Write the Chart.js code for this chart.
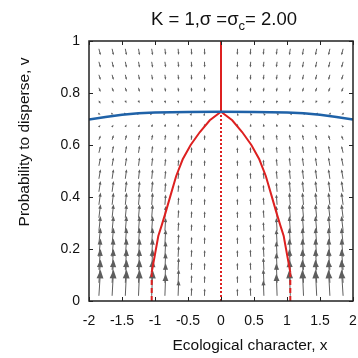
<!DOCTYPE html>
<html>
<head>
<meta charset="utf-8">
<script src="https://cdn.jsdelivr.net/npm/chart.js@4.4.1/dist/chart.umd.min.js"></script>
<style>
  html, body { margin: 0; padding: 0; background: #fff; }
</style>
</head>
<body>
<canvas id="graphCanvas" width="358" height="358"></canvas>
<script>
// axis ticks
var xTicks = [-2, -1.5, -1, -0.5, 0, 0.5, 1, 1.5, 2];
var yTicks = [0, 0.2, 0.4, 0.6, 0.8, 1];

// blue curve (v isocline)
var blueX = [-2, -1.75, -1.5, -1.25, -1, -0.5, 0, 0.5, 1, 1.25, 1.5, 1.75, 2];
var blueV = [0.698, 0.708, 0.716, 0.722, 0.725, 0.727, 0.728, 0.727, 0.725, 0.722, 0.716, 0.708, 0.698];

// red curve (x isocline, branching region)
var redX = [-1.05, -1.0, -0.95, -0.9, -0.84, -0.76, -0.68, -0.58, -0.46, -0.32, -0.17, 0,
            0.17, 0.32, 0.46, 0.58, 0.68, 0.76, 0.84, 0.9, 0.95, 1.0, 1.05];
var redV = [0.11, 0.18, 0.25, 0.29, 0.34, 0.41, 0.48, 0.545, 0.6, 0.65, 0.695, 0.728,
            0.695, 0.65, 0.6, 0.545, 0.48, 0.41, 0.34, 0.29, 0.25, 0.18, 0.11];
var redTop = 0.728;
var redFoot = 1.05;

// direction field, symmetric in x: columns are |x|, rows are v
var fieldCols = [0.25, 0.45, 0.65, 0.85, 1.05, 1.25, 1.45, 1.65, 1.85];
var fieldRows = [0.02, 0.07, 0.12, 0.17, 0.22, 0.27, 0.32, 0.37, 0.42, 0.47,
                 0.52, 0.57, 0.62, 0.67, 0.72, 0.77, 0.82, 0.87, 0.92, 0.97];
// dv per arrow, one row per entry of fieldRows
var fieldDV = [
  [0.028, 0.032, 0.060, 0.085, 0.100, 0.100, 0.100, 0.100, 0.100],
  [0.027, 0.030, 0.052, 0.075, 0.090, 0.090, 0.090, 0.090, 0.090],
  [0.027, 0.029, 0.046, 0.066, 0.080, 0.080, 0.080, 0.080, 0.080],
  [0.026, 0.028, 0.042, 0.060, 0.070, 0.070, 0.070, 0.070, 0.070],
  [0.026, 0.027, 0.038, 0.055, 0.062, 0.062, 0.062, 0.062, 0.062],
  [0.025, 0.026, 0.034, 0.050, 0.057, 0.057, 0.057, 0.057, 0.057],
  [0.025, 0.026, 0.031, 0.045, 0.052, 0.052, 0.052, 0.052, 0.052],
  [0.024, 0.025, 0.029, 0.040, 0.047, 0.047, 0.047, 0.047, 0.047],
  [0.024, 0.025, 0.027, 0.036, 0.042, 0.042, 0.042, 0.042, 0.042],
  [0.023, 0.024, 0.026, 0.032, 0.037, 0.037, 0.037, 0.037, 0.037],
  [0.022, 0.023, 0.024, 0.028, 0.032, 0.032, 0.032, 0.032, 0.032],
  [0.021, 0.022, 0.022, 0.024, 0.027, 0.027, 0.027, 0.027, 0.026],
  [0.019, 0.019, 0.019, 0.020, 0.020, 0.020, 0.019, 0.018, 0.017],
  [0.012, 0.012, 0.012, 0.012, 0.011, 0.010, 0.009, 0.008, 0.007],
  [0.003, 0.003, 0.003, 0.002, 0.001, 0.000, -0.002, -0.003, -0.004],
  [-0.010, -0.010, -0.010, -0.010, -0.009, -0.009, -0.009, -0.010, -0.011],
  [-0.016, -0.016, -0.016, -0.016, -0.016, -0.016, -0.016, -0.016, -0.016],
  [-0.020, -0.020, -0.020, -0.020, -0.020, -0.020, -0.020, -0.020, -0.020],
  [-0.022, -0.022, -0.022, -0.022, -0.023, -0.023, -0.023, -0.023, -0.023],
  [-0.024, -0.024, -0.024, -0.024, -0.025, -0.025, -0.025, -0.025, -0.025]
];
// pull towards x = 0, per column
var fieldDX = [0.003, 0.006, 0.009, 0.012, 0.015, 0.017, 0.020, 0.022, 0.025];

var fontFamily = '"Liberation Sans", Arial, Helvetica, sans-serif';
var arrowColor = '#5e5e5e';

function pts(xs, vs) {
    var out = [];
    for (var i = 0; i < xs.length; i++) out.push({ x: xs[i], y: vs[i] });
    return out;
}

function drawArrow(ctx, x0, y0, x1, y1) {
    var dx = x1 - x0, dy = y1 - y0;
    var len = Math.sqrt(dx * dx + dy * dy);
    if (len < 0.6) return;
    var ux = dx / len, uy = dy / len;
    var head = Math.max(2.6, len * 0.33);
    var half = head * 0.4;
    ctx.beginPath();
    ctx.moveTo(x0, y0);
    ctx.lineTo(x1 - ux * head * 0.6, y1 - uy * head * 0.6);
    ctx.stroke();
    ctx.beginPath();
    ctx.moveTo(x1, y1);
    ctx.lineTo(x1 - ux * head - uy * half, y1 - uy * head + ux * half);
    ctx.lineTo(x1 - ux * head + uy * half, y1 - uy * head - ux * half);
    ctx.closePath();
    ctx.fill();
}

var quiverPlugin = {
    id: 'quiver',
    beforeDatasetsDraw: function (chart) {
        var xs = chart.scales.x, ys = chart.scales.y, ctx = chart.ctx, a = chart.chartArea;
        ctx.save();
        ctx.beginPath();
        ctx.rect(a.left, a.top, a.right - a.left, a.bottom - a.top);
        ctx.clip();
        ctx.strokeStyle = arrowColor;
        ctx.fillStyle = arrowColor;
        ctx.lineWidth = 1;
        for (var r = 0; r < fieldRows.length; r++) {
            for (var c = 0; c < fieldCols.length; c++) {
                for (var side = -1; side <= 1; side += 2) {
                    var x = side * fieldCols[c], v = fieldRows[r];
                    drawArrow(ctx,
                        xs.getPixelForValue(x), ys.getPixelForValue(v),
                        xs.getPixelForValue(x - side * fieldDX[c]),
                        ys.getPixelForValue(v + fieldDV[r][c]));
                }
            }
        }
        ctx.restore();
    }
};

var framePlugin = {
    id: 'frame',
    afterDraw: function (chart) {
        var xs = chart.scales.x, ys = chart.scales.y, ctx = chart.ctx, a = chart.chartArea;
        ctx.save();
        // box and inward ticks
        ctx.strokeStyle = '#222';
        ctx.lineWidth = 1.5;
        ctx.strokeRect(a.left, a.top, a.right - a.left, a.bottom - a.top);
        ctx.lineWidth = 1;
        ctx.beginPath();
        xTicks.forEach(function (t) {
            var px = Math.round(xs.getPixelForValue(t)) + 0.5;
            ctx.moveTo(px, a.bottom); ctx.lineTo(px, a.bottom - 4);
            ctx.moveTo(px, a.top); ctx.lineTo(px, a.top + 4);
        });
        yTicks.forEach(function (t) {
            var py = Math.round(ys.getPixelForValue(t)) + 0.5;
            ctx.moveTo(a.left, py); ctx.lineTo(a.left + 4, py);
            ctx.moveTo(a.right, py); ctx.lineTo(a.right - 4, py);
        });
        ctx.stroke();

        // title with subscript
        ctx.fillStyle = '#111';
        ctx.textBaseline = 'alphabetic';
        var big = '18.5px ' + fontFamily, small = '13px ' + fontFamily;
        var p1 = 'K = 1,σ =σ', p2 = 'c', p3 = '= 2.00';
        ctx.font = big;
        var w1 = ctx.measureText(p1).width, w3 = ctx.measureText(p3).width;
        ctx.font = small;
        var w2 = ctx.measureText(p2).width;
        var tx = 224 - (w1 + w2 + w3) / 2, ty = 25;
        ctx.font = big; ctx.textAlign = 'left';
        ctx.fillText(p1, tx, ty);
        ctx.font = small;
        ctx.fillText(p2, tx + w1, ty + 5);
        ctx.font = big;
        ctx.fillText(p3, tx + w1 + w2, ty);

        // axis titles
        ctx.font = '15.5px ' + fontFamily;
        ctx.textAlign = 'center';
        ctx.textBaseline = 'middle';
        ctx.fillText('Ecological character, x', 250, 346);
        ctx.save();
        ctx.translate(25, 142);
        ctx.rotate(-Math.PI / 2);
        ctx.fillText('Probability to disperse, v', 0, 0);
        ctx.restore();
        ctx.restore();
    }
};

var redColor = '#dd2020';
var blueColor = '#1f62a8';

var chartdata = {
    datasets: [
        { data: pts(blueX, blueV), borderColor: blueColor, borderWidth: 2.5 },
        { data: pts(redX, redV), borderColor: redColor, borderWidth: 2 },
        { data: [{ x: 0, y: redTop }, { x: 0, y: 1 }], borderColor: redColor, borderWidth: 2 },
        { data: [{ x: 0, y: 0 }, { x: 0, y: redTop }], borderColor: redColor, borderWidth: 2, borderDash: [2, 2] },
        { data: [{ x: -redFoot, y: 0 }, { x: -redFoot, y: redV[0] }], borderColor: redColor, borderWidth: 2, borderDash: [5, 3] },
        { data: [{ x: redFoot, y: 0 }, { x: redFoot, y: redV[redV.length - 1] }], borderColor: redColor, borderWidth: 2, borderDash: [5, 3] }
    ]
};

new Chart(document.getElementById('graphCanvas'), {
    type: 'scatter',
    data: chartdata,
    plugins: [quiverPlugin, framePlugin],
    options: {
        responsive: false,
        animation: false,
        devicePixelRatio: 1,
        layout: { padding: { top: 41, right: 5, left: 0, bottom: 0 } },
        elements: {
            point: { radius: 0, hoverRadius: 0 },
            line: { tension: 0, fill: false }
        },
        datasets: { scatter: { showLine: true } },
        plugins: { legend: { display: false }, tooltip: { enabled: false } },
        scales: {
            x: {
                type: 'linear', min: -2, max: 2,
                afterFit: function (s) { s.height = 57; s.paddingLeft = 0; s.paddingRight = 0; },
                afterBuildTicks: function (s) { s.ticks = xTicks.map(function (v) { return { value: v }; }); },
                grid: { display: false, drawTicks: false },
                border: { display: false },
                ticks: {
                    padding: 12, color: '#111', maxRotation: 0,
                    font: { family: fontFamily, size: 14 },
                    callback: function (v) { return String(v); }
                }
            },
            y: {
                type: 'linear', min: 0, max: 1,
                afterFit: function (s) { s.width = 89; s.paddingTop = 0; s.paddingBottom = 0; },
                afterBuildTicks: function (s) { s.ticks = yTicks.map(function (v) { return { value: v }; }); },
                grid: { display: false, drawTicks: false },
                border: { display: false },
                ticks: {
                    padding: 9, color: '#111',
                    font: { family: fontFamily, size: 14 },
                    callback: function (v) { return String(v); }
                }
            }
        }
    }
});
</script>
</body>
</html>
